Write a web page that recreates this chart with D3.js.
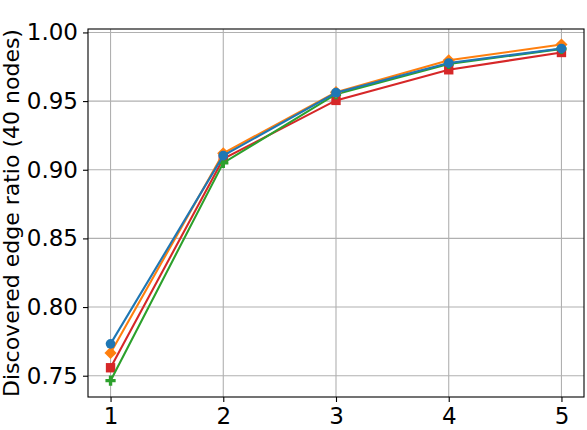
<!DOCTYPE html>
<html>
<head>
<meta charset="utf-8">
<script src="https://cdn.jsdelivr.net/npm/d3@7"></script>
<style>
  body { margin: 0; background: #fff; }
  text { font-family: "DejaVu Sans", sans-serif; fill: #000; }
</style>
</head>
<body>
<svg width="587" height="430"></svg>
<script>
const svg = d3.select("svg")
const width = +svg.attr("width")
const height = +svg.attr("height")

// data
const steps = [1, 2, 3, 4, 5]
const redValues = [0.7558, 0.9080, 0.9505, 0.9728, 0.9854]
const greenValues = [0.7464, 0.9050, 0.9550, 0.9770, 0.9880]
const orangeValues = [0.7666, 0.9120, 0.9565, 0.9797, 0.9912]
const blueValues = [0.7732, 0.9103, 0.9561, 0.9777, 0.9883]
const yTicks = [0.75, 0.8, 0.85, 0.9, 0.95, 1.0]
const yAxisLabel = "Discovered edge ratio (40 nodes)"

const series = [
  { values: redValues, color: "#d62728", marker: "square" },
  { values: greenValues, color: "#2ca02c", marker: "plus" },
  { values: orangeValues, color: "#ff7f0e", marker: "diamond" },
  { values: blueValues, color: "#1f77b4", marker: "circle" }
]

const margin = { top: 29, right: 3, bottom: 33, left: 88 }
const innerWidth = width - margin.left - margin.right
const innerHeight = height - margin.top - margin.bottom

const xScale = d3.scaleLinear().domain([0.8, 5.2]).range([0, innerWidth])
const yScale = d3.scaleLinear().domain([0.7345, 1.0025]).range([innerHeight, 0])

const g = svg.append("g")
  .attr("transform", `translate(${margin.left},${margin.top})`)

// grid
g.append("g")
  .selectAll("line")
  .data(steps)
  .join("line")
  .attr("x1", (d) => xScale(d))
  .attr("x2", (d) => xScale(d))
  .attr("y1", 0)
  .attr("y2", innerHeight)
  .attr("stroke", "#b0b0b0")
  .attr("stroke-width", 1.1)
g.append("g")
  .selectAll("line")
  .data(yTicks)
  .join("line")
  .attr("x1", 0)
  .attr("x2", innerWidth)
  .attr("y1", (d) => yScale(d))
  .attr("y2", (d) => yScale(d))
  .attr("stroke", "#b0b0b0")
  .attr("stroke-width", 1.1)

const xAxis = d3.axisBottom(xScale)
  .tickValues(steps)
  .tickFormat(d3.format("d"))
  .tickSize(5)
  .tickPadding(5)
const yAxis = d3.axisLeft(yScale)
  .tickValues(yTicks)
  .tickFormat(d3.format(".2f"))
  .tickSize(5)
  .tickPadding(5)

const xAxisG = g.append("g")
  .attr("transform", `translate(0,${innerHeight})`)
  .call(xAxis)
const yAxisG = g.append("g").call(yAxis)
;[xAxisG, yAxisG].forEach((ax) => {
  ax.select(".domain").remove()
  ax.selectAll("line").attr("stroke", "#000").attr("stroke-width", 1.1)
  ax.selectAll("text").style("font-size", "23px").attr("fill", "#000")
})
xAxisG.selectAll("text").attr("dy", "0.73em")

// y label
svg.append("text")
  .attr("transform", `translate(19,${margin.top + innerHeight / 2}) rotate(-90)`)
  .attr("text-anchor", "middle")
  .style("font-size", "22px")
  .text(yAxisLabel)

// lines + markers
const line = d3.line()
  .x((d, i) => xScale(steps[i]))
  .y((d) => yScale(d))

const symbols = {
  circle: d3.symbol().type(d3.symbolCircle).size(74),
  square: d3.symbol().type(d3.symbolSquare).size(88),
  diamond: d3.symbol().type(d3.symbolSquare).size(74),
  plus: d3.symbol().type(d3.symbolCross).size(58)
}

series.forEach((s) => {
  const sg = g.append("g")
  sg.append("path")
    .datum(s.values)
    .attr("fill", "none")
    .attr("stroke", s.color)
    .attr("stroke-width", 2.1)
    .attr("d", line)
  sg.selectAll("path.mark")
    .data(s.values)
    .join("path")
    .attr("class", "mark")
    .attr("fill", s.color)
    .attr("d", symbols[s.marker])
    .attr("transform", (d, i) =>
      `translate(${xScale(steps[i])},${yScale(d)})` + (s.marker === "diamond" ? " rotate(45)" : ""))
})

// frame
g.append("rect")
  .attr("width", innerWidth)
  .attr("height", innerHeight)
  .attr("fill", "none")
  .attr("stroke", "#000")
  .attr("stroke-width", 1.1)
</script>
</body>
</html>
